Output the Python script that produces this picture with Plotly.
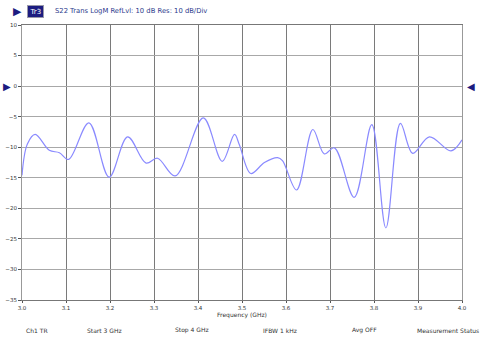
import plotly.graph_objects as go

# trace points (GHz, dB)
freq = [3.000, 3.012, 3.030, 3.062, 3.085, 3.106, 3.152, 3.198, 3.240, 3.282, 3.308,
        3.348, 3.412, 3.455, 3.483, 3.494, 3.520, 3.551, 3.581, 3.592, 3.624, 3.661,
        3.687, 3.710, 3.755, 3.795, 3.827, 3.860, 3.888, 3.926, 3.975, 4.000]
s22_db = [-14.6, -9.5, -7.9, -10.5, -10.9, -12.0, -6.0, -14.9, -8.3, -12.6, -11.8,
          -14.7, -5.2, -12.3, -7.9, -9.6, -14.3, -12.5, -11.7, -12.2, -17.0, -7.1,
          -11.1, -10.1, -18.2, -6.3, -23.2, -6.1, -11.0, -8.3, -10.6, -8.8]

status = ["Ch1 TR", "Start 3 GHz", "Stop 4 GHz", "IFBW 1 kHz", "Avg OFF", "Measurement Status"]
status_x = [37, 104, 192, 280, 364, 448]

navy = "#1c1c80"
L, R, T, B = 22, 18, 25, 38
pw, ph = 480 - L - R, 338 - T - B

def px_to_paper(x, y):
    return (x - L) / pw, (338 - B - y) / ph

fig = go.Figure()
fig.add_trace(go.Scatter(x=freq, y=s22_db, mode="lines",
                         line=dict(color="#8a8aff", width=1.2, shape="spline", smoothing=1.0)))

fig.update_layout(
    width=480, height=338,
    margin=dict(l=L, r=R, t=T, b=B, autoexpand=False),
    paper_bgcolor="white", plot_bgcolor="white",
    showlegend=False,
    font=dict(family="DejaVu Sans", size=6, color="#333"),
)
fig.update_xaxes(range=[3.0, 4.0], dtick=0.1, tickformat=".1f", showgrid=True, gridcolor="#7a7a7a", gridwidth=1,
                 showline=True, linecolor="#777", mirror=True, ticks="outside", ticklen=2, tickcolor="#555",
                 tickfont=dict(size=5.5), zeroline=False,
                 title=dict(text="Frequency (GHz)", font=dict(size=6), standoff=0))
fig.update_yaxes(range=[-35, 10], dtick=5, showgrid=True, gridcolor="#a8a8a8", gridwidth=1,
                 showline=True, linecolor="#999", mirror=True, ticks="outside", ticklen=3, tickcolor="#555",
                 tickfont=dict(size=5.5), zeroline=False)

# header
hx, hy = px_to_paper(17, 12)
fig.add_annotation(x=hx, y=hy, xref="paper", yref="paper", xanchor="center", yanchor="middle", text="▶",
                   showarrow=False, font=dict(size=11, color=navy))
hx, hy = px_to_paper(35.5, 11.5)
fig.add_annotation(x=hx, y=hy, xref="paper", yref="paper", xanchor="center", yanchor="middle", text="Tr3",
                   showarrow=False, font=dict(size=7, color="white"), bgcolor=navy,
                   bordercolor="#99a", borderwidth=1, borderpad=1.5)
hx, hy = px_to_paper(53, 11)
fig.add_annotation(x=hx, y=hy, xref="paper", yref="paper", xanchor="left", yanchor="middle",
                   text="S22 Trans LogM RefLvl: 10 dB Res: 10 dB/Div",
                   showarrow=False, font=dict(size=6.8, color="#2b3a8c"))

# reference level markers
mx, _ = px_to_paper(6.5, 0)
fig.add_annotation(x=mx, y=0, xref="paper", yref="y", xanchor="center", text="▶", showarrow=False,
                   font=dict(size=10, color=navy))
mx, _ = px_to_paper(471, 0)
fig.add_annotation(x=mx, y=0, xref="paper", yref="y", xanchor="center", text="◀", showarrow=False,
                   font=dict(size=10, color=navy))

# status bar
for t, px in zip(status, status_x):
    sx, sy = px_to_paper(px, 330)
    fig.add_annotation(x=sx, y=sy, xref="paper", yref="paper", xanchor="center", yanchor="middle",
                       text=t, showarrow=False, font=dict(size=6, color="#333"))

fig.write_html("out.html", config={"displayModeBar": False},
               post_script="document.body.style.margin='0';")
